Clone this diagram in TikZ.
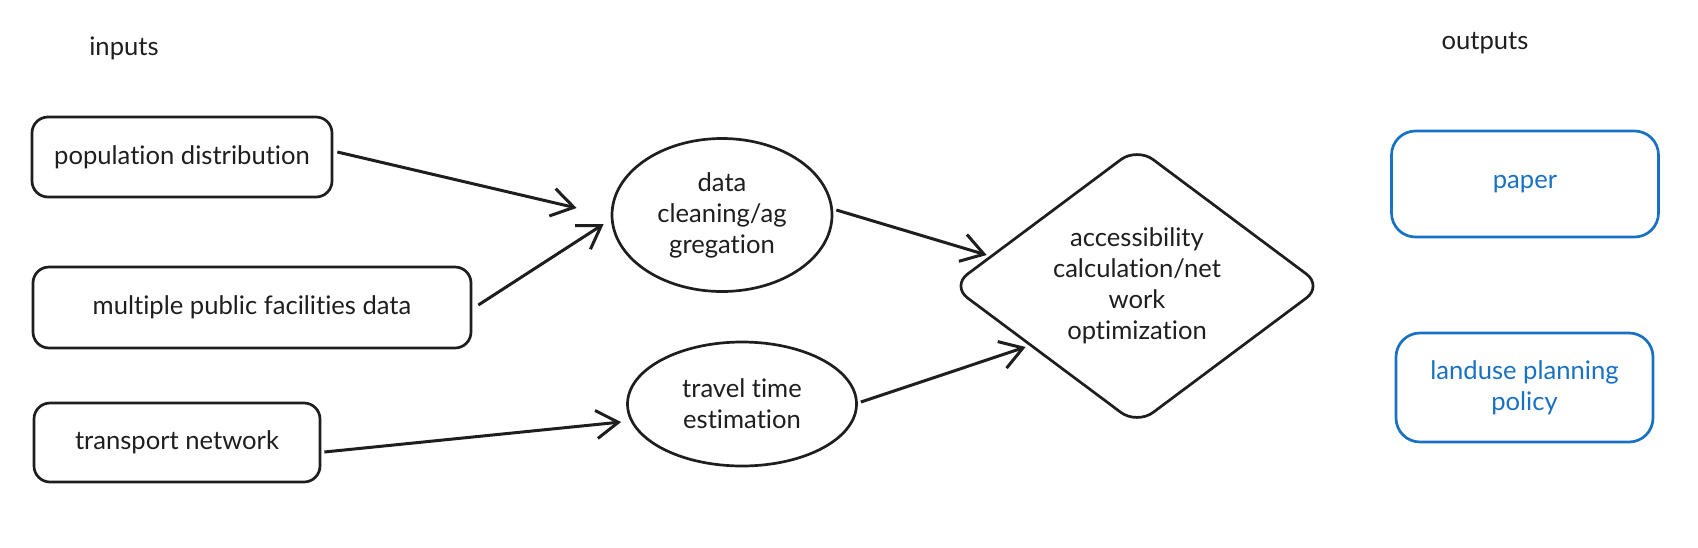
\documentclass[tikz,border=0pt]{standalone}
\usepackage{fontspec}
\setmainfont{Lato}[Ligatures=NoCommon]
\usetikzlibrary{arrows.meta}
\usetikzlibrary{shapes.geometric}
\usetikzlibrary{calc}
\definecolor{inkgrey}{HTML}{1E1E1E}
\definecolor{outblue}{HTML}{1971C2}

\begin{document}
\begin{tikzpicture}[x=0.5pt,y=-0.5pt,
        every node/.style={font=\fontsize{12.8pt}{15.5pt}\selectfont, text=inkgrey},
        inbox/.style={draw=inkgrey, line width=1.35pt, rounded corners=8pt, inner sep=0pt},
        stepell/.style={draw=inkgrey, ellipse, line width=1.35pt, inner sep=0pt, align=center},
        calcdia/.style={draw=inkgrey, diamond, line width=1.35pt, rounded corners=10pt, inner sep=0pt, aspect=1.34, align=center},
        outbox/.style={draw=outblue, text=outblue, line width=1.35pt, rounded corners=12pt, inner sep=0pt, align=center},
        flow/.style={draw=inkgrey, line width=1.5pt, -{Straight Barb[length=11pt,width=14pt]}}]
        \useasboundingbox (0,0) rectangle (1698,547);

        % Text Node
        \node (inlabel) at (124,48) {inputs};
        % Text Node
        \node (outlabel) at (1485,43) {outputs};

        %Shape: Rectangle [inputs]
        \node[inbox, minimum width=150pt, minimum height=40pt] (pop) at (182,157) {population distribution};
        \node[inbox, minimum width=219pt, minimum height=40.5pt] (fac) at (252,307.5) {multiple public facilities data};
        \node[inbox, minimum width=143pt, minimum height=39.5pt] (net) at (177,442.5) {transport network};

        %Shape: Ellipse
        \node[stepell, minimum width=110pt, minimum height=76.5pt] (clean) at (722,215) {data\\cleaning/ag\\gregation};
        \node[stepell, minimum width=114.5pt, minimum height=62pt] (travel) at (742,404) {travel time\\estimation};

        %Shape: Diamond
        \node[calcdia, minimum width=186pt, minimum height=139pt] (access) at (1137,286) {accessibility\\calculation/net\\work\\optimization};

        %Shape: Rectangle [outputs]
        \node[outbox, minimum width=133.5pt, minimum height=53pt] (paper) at (1525,184) {paper};
        \node[outbox, minimum width=128.5pt, minimum height=54.5pt] (policy) at (1524.5,387.5) {landuse planning\\policy};

        %Straight Lines
        \draw[flow] ($(pop.east)+(4,-5)$) -- ($(clean.west)+(-34,-7)$);
        \draw[flow] ($(fac.east)+(6,-2.5)$) -- ($(clean.west)+(-7,9)$);
        \draw[flow] ($(clean.east)+(3,-5)$) -- ($(access.west)+(37,-31)$);
        \draw[flow] ($(net.east)+(3,9.5)$) -- ($(travel.west)+(-5,18)$);
        \draw[flow] ($(travel.east)+(3,-2)$) -- ($(access.west)+(76,61)$);
\end{tikzpicture}
\end{document}
